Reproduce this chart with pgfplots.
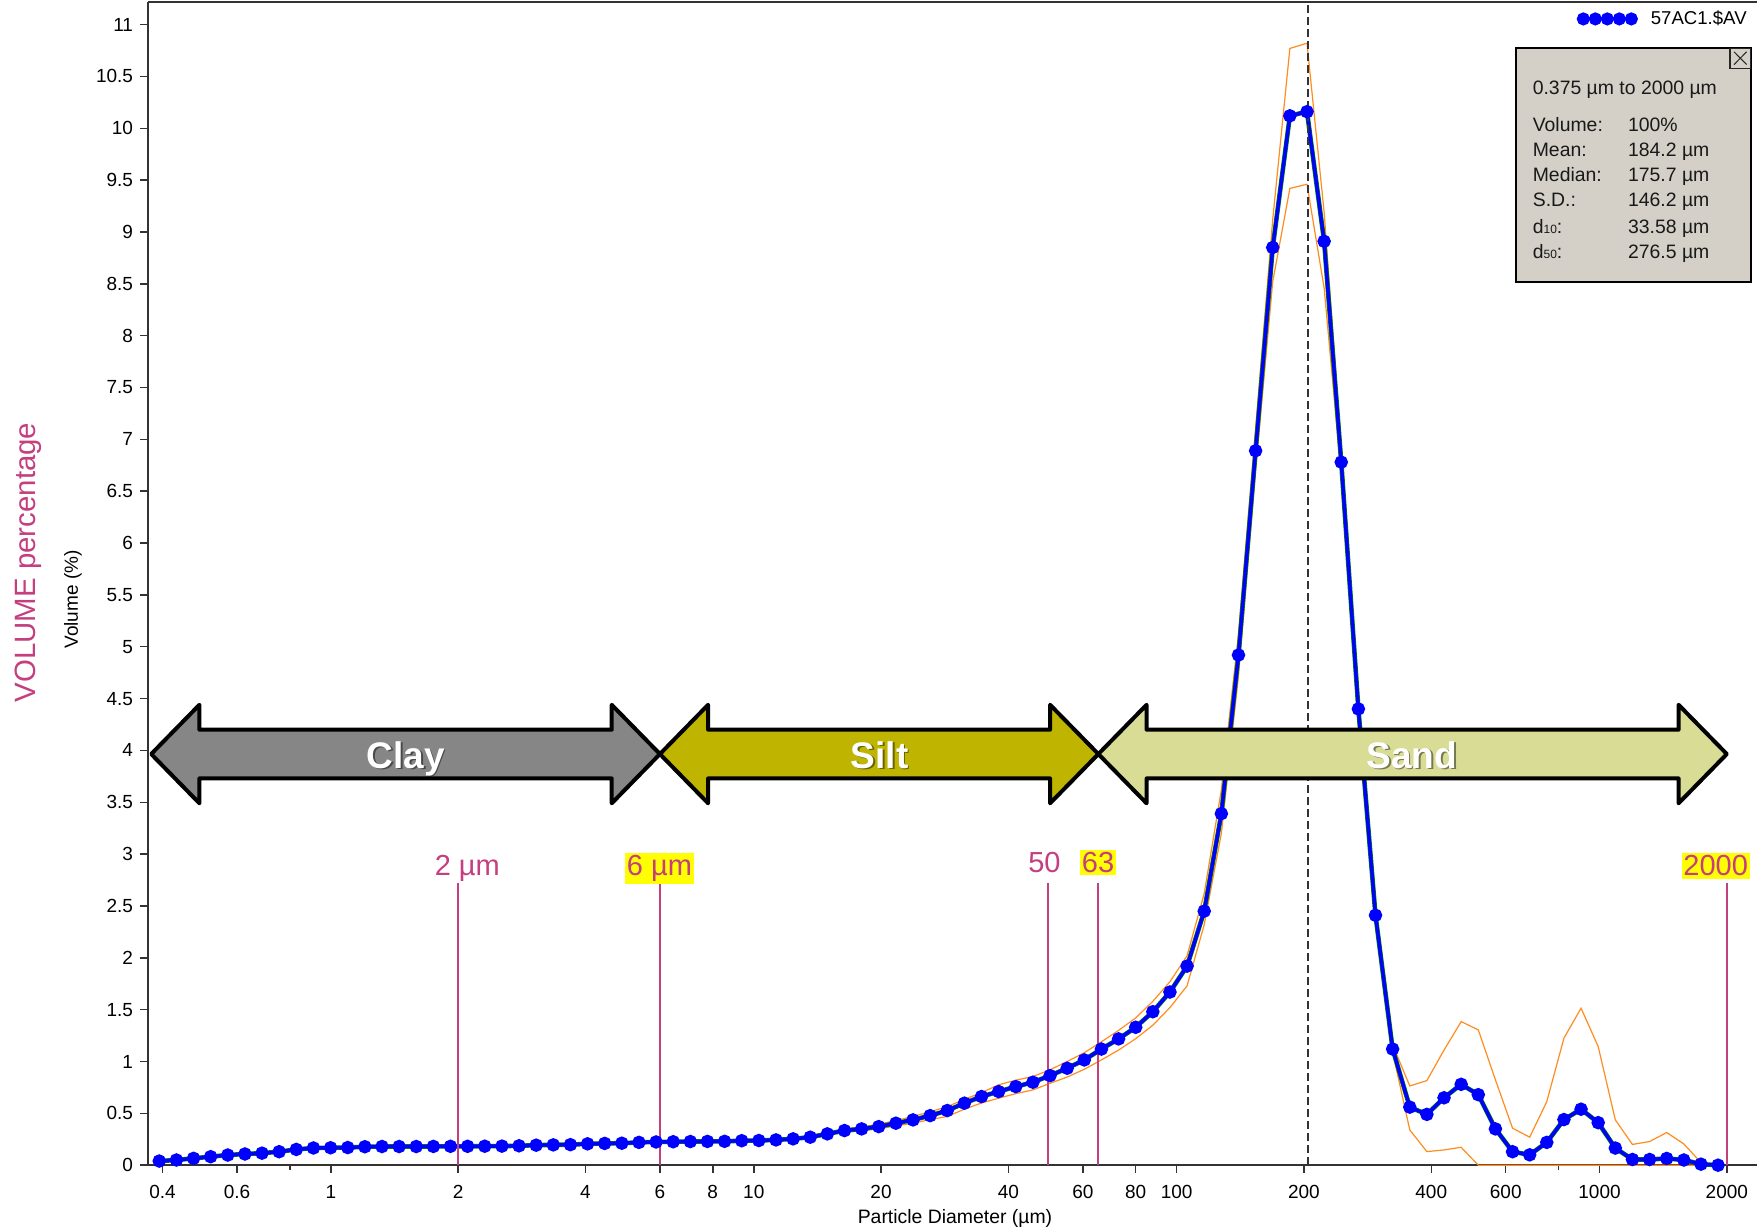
\documentclass[border=0pt]{standalone}
\usepackage{fontspec}
\setmainfont{Liberation Sans}
\usepackage{pgfplots}
\usepackage{pgfplotstable}
\pgfplotsset{compat=1.18}
\definecolor{claygray}{RGB}{135,134,134}
\definecolor{siltolive}{RGB}{191,181,0}
\definecolor{sandcol}{RGB}{216,220,148}
\definecolor{orangeC}{RGB}{255,140,30}
\definecolor{magC}{RGB}{196,62,128}
\definecolor{boxgray}{RGB}{212,208,200}
\definecolor{greenC}{RGB}{0,128,0}
\definecolor{hiyel}{RGB}{255,255,0}

\pgfplotstableread{
x b u l
0.3929 0.040 0.045 0.035
0.4313 0.050 0.055 0.045
0.4735 0.066 0.071 0.061
0.5197 0.082 0.087 0.077
0.5705 0.098 0.103 0.093
0.6263 0.108 0.113 0.103
0.6875 0.116 0.121 0.111
0.7547 0.130 0.135 0.125
0.8285 0.152 0.157 0.147
0.9095 0.166 0.171 0.161
0.9986 0.168 0.173 0.163
1.0962 0.170 0.175 0.165
1.2034 0.178 0.183 0.173
1.3210 0.180 0.185 0.175
1.4501 0.180 0.185 0.175
1.5918 0.180 0.185 0.175
1.7474 0.181 0.186 0.176
1.9182 0.182 0.187 0.177
2.1057 0.182 0.187 0.177
2.3115 0.183 0.188 0.178
2.5381 0.184 0.189 0.179
2.7862 0.187 0.192 0.182
3.0586 0.193 0.198 0.188
3.3575 0.196 0.201 0.191
3.6857 0.198 0.203 0.193
4.0460 0.206 0.216 0.196
4.4415 0.210 0.220 0.200
4.8757 0.212 0.222 0.202
5.3523 0.220 0.230 0.210
5.8755 0.224 0.234 0.214
6.4498 0.226 0.236 0.216
7.0803 0.228 0.238 0.218
7.7724 0.229 0.239 0.219
8.5322 0.230 0.240 0.220
9.3662 0.236 0.246 0.226
10.282 0.238 0.248 0.228
11.287 0.244 0.255 0.235
12.390 0.254 0.265 0.243
13.601 0.270 0.285 0.258
14.931 0.302 0.318 0.288
16.390 0.334 0.350 0.318
17.993 0.350 0.370 0.332
19.751 0.372 0.395 0.350
21.682 0.405 0.430 0.380
23.802 0.437 0.470 0.405
26.128 0.478 0.515 0.440
28.682 0.527 0.565 0.470
31.486 0.598 0.635 0.540
34.564 0.662 0.700 0.600
37.943 0.710 0.775 0.646
41.652 0.758 0.820 0.690
45.723 0.800 0.855 0.726
50.193 0.864 0.920 0.790
55.100 0.935 1.000 0.850
60.486 1.015 1.085 0.925
66.399 1.120 1.190 1.015
72.890 1.218 1.300 1.110
80.015 1.330 1.420 1.220
87.837 1.480 1.580 1.350
96.424 1.670 1.770 1.520
105.85 1.920 2.020 1.730
116.20 2.450 2.620 2.320
127.56 3.390 3.620 3.200
140.03 4.920 5.120 4.720
153.72 6.890 7.100 6.700
168.74 8.850 9.120 8.520
185.24 10.12 10.77 9.420
203.35 10.16 10.82 9.460
223.23 8.910 9.190 8.460
245.05 6.780 6.920 6.650
269.00 4.400 4.500 4.300
295.30 2.410 2.500 2.340
324.17 1.120 1.160 1.090
355.86 0.560 0.764 0.340
390.64 0.490 0.816 0.131
428.83 0.650 1.110 0.147
470.75 0.780 1.385 0.173
516.77 0.680 1.305 0.000
567.29 0.350 0.823 0.000
622.74 0.130 0.357 0.000
683.62 0.100 0.270 0.000
750.44 0.220 0.613 0.000
823.80 0.440 1.225 0.000
904.33 0.540 1.514 0.000
992.73 0.410 1.144 0.000
1089.8 0.165 0.437 0.000
1196.3 0.055 0.200 0.000
1313.3 0.055 0.228 0.000
1441.6 0.065 0.315 0.000
1582.5 0.050 0.205 0.000
1737.2 0.010 0.025 0.000
1907.0 0.000 0.000 0.000
}\datatable

\newcommand{\bigarrow}[5]{%
  \draw[line width=2pt, line join=round, fill=#5]
    (axis cs:#1,3.965) -- (axis cs:#2,4.44) -- (axis cs:#2,4.20) -- (axis cs:#3,4.20)
    -- (axis cs:#3,4.44) -- (axis cs:#4,3.965) -- (axis cs:#3,3.49) -- (axis cs:#3,3.73)
    -- (axis cs:#2,3.73) -- (axis cs:#2,3.49) -- cycle;}
\newcommand{\arrowtext}[2]{%
  \node[anchor=base, font=\fontsize{18.5}{20}\selectfont\bfseries, text=black, text opacity=0.45, xshift=0.9pt, yshift=-0.9pt] at (axis cs:#1,3.83) {#2};
  \node[anchor=base, font=\fontsize{18.5}{20}\selectfont\bfseries, text=white] at (axis cs:#1,3.83) {#2};}

\begin{document}
\begin{tikzpicture}
\path[use as bounding box] (-74pt,-31.85pt) rectangle (804.5pt,582.6pt);
\begin{axis}[
  at={(0pt,0pt)}, anchor=south west,
  scale only axis, width=804.5pt, height=581.5pt,
  xmode=log, xmin=0.3695, xmax=2357, ymin=0, ymax=11.216,
  clip=false,
  axis x line*=box, axis y line*=left,
  axis line style={draw=black!80, line width=0.75pt},
  xtick pos=bottom, ytick pos=left,
  tick align=outside, major tick length=4pt,
  tick style={black!80, line width=0.75pt},
  xminorticks=false, yminorticks=false,
  xtick={0.4,0.6,1,2,4,6,8,10,20,40,60,80,100,200,400,600,1000,2000},
  xticklabels={0.4,0.6,1,2,4,6,8,10,20,40,60,80,100,200,400,600,1000,2000},
  extra x ticks={0.8,800}, extra x tick labels={},
  extra x tick style={major tick length=2.5pt},
  ytick={0,0.5,...,11},
  /pgf/number format/assume math mode=true,
  tick label style={font=\fontsize{9.5}{10}\selectfont},
  xticklabel style={yshift=-2.6pt},
  legend style={at={(axis description cs:0.9963,0.9856)}, anchor=east, draw=none, fill=none,
    inner sep=0pt, column sep=4.5pt, font=\fontsize{9.3}{10}\selectfont},
  legend image code/.code={%
    \draw[blue, line width=1.5pt] (0pt,0pt) -- (24pt,0pt);
    \foreach \xx in {0,6,12,18,24} {\fill[blue] (\xx pt,0pt) circle[radius=2.4pt];}},
]
\addplot[orangeC, line width=0.6pt, forget plot] table[x=x, y=u] {\datatable};
\addplot[orangeC, line width=0.6pt, forget plot] table[x=x, y=l] {\datatable};
\addplot[greenC, line width=2.3pt, forget plot] table[x=x, y=b] {\datatable};
\addplot[blue, line width=1.7pt, mark=*, mark size=2.5pt, mark options={blue}] table[x=x, y=b] {\datatable};
\addlegendentry{57AC1.\$AV}

% size class limits
\draw[magC, line width=1pt] (axis cs:2,0) -- (axis cs:2,2.72);
\draw[magC, line width=1pt] (axis cs:6,0) -- (axis cs:6,2.72);
\draw[magC, line width=1pt] (axis cs:49.5,0) -- (axis cs:49.5,2.72);
\draw[magC, line width=1pt] (axis cs:65,0) -- (axis cs:65,2.72);
\draw[magC, line width=1pt] (axis cs:2000,0) -- (axis cs:2000,2.72);
\draw[black!80, line width=1pt, dash pattern=on 4pt off 2pt] (axis cs:205,0) -- (axis cs:205,11.216);

\node[anchor=base, text=magC, font=\fontsize{14.5}{16}\selectfont] at (axis cs:2.102,2.79) {2 µm};
\node[anchor=base, text=magC, fill=hiyel, inner xsep=0.8pt, inner ysep=1.2pt, font=\fontsize{14.5}{16}\selectfont] at (axis cs:5.985,2.79) {6 µm};
\node[anchor=base, text=magC, font=\fontsize{14.5}{16}\selectfont] at (axis cs:48.7,2.82) {50};
\node[anchor=base, text=magC, fill=hiyel, inner xsep=0.8pt, inner ysep=1.2pt, font=\fontsize{14.5}{16}\selectfont] at (axis cs:65.2,2.82) {63};
\node[anchor=base, text=magC, fill=hiyel, inner xsep=0.8pt, inner ysep=1.2pt, font=\fontsize{14.5}{16}\selectfont] at (axis cs:1882,2.79) {2000};

% grain-size class arrows
\bigarrow{0.376}{0.4888}{4.615}{6.0}{claygray}
\bigarrow{6.0}{7.8}{50.2}{65.3}{siltolive}
\bigarrow{65.3}{84.9}{1538}{2000}{sandcol}
\arrowtext{1.503}{Clay}
\arrowtext{19.85}{Silt}
\arrowtext{359.6}{Sand}
\end{axis}

% axis titles
\node[rotate=90, font=\fontsize{9.5}{10}\selectfont] at (-37.5pt,282.9pt) {Volume (\%)};
\node[rotate=90, text=magC, font=\fontsize{14.7}{16}\selectfont] at (-60pt,301.4pt) {VOLUME percentage};
\node[font=\fontsize{9.7}{10}\selectfont] at (403.5pt,-26.6pt) {Particle Diameter (µm)};

% statistics box
\draw[fill=boxgray, line width=1.2pt] (684pt,441.65pt) rectangle (801.5pt,558.65pt);
\draw[black!85, line width=0.6pt] (791pt,548.5pt) rectangle (801.3pt,558.5pt);
\draw[black!85, line width=0.5pt] (793pt,550.3pt) -- (799.3pt,556.7pt) (793pt,556.7pt) -- (799.3pt,550.3pt);
\begin{scope}[every node/.style={anchor=base west, inner sep=0pt, font=\fontsize{9.7}{10}\selectfont, text=black!90}]
\node at (692.2pt,535.5pt) {0.375 µm to 2000 µm};
\node at (692.2pt,516.7pt) {Volume:};
\node at (739.85pt,516.7pt) {100\%};
\node at (692.2pt,504.2pt) {Mean:};
\node at (739.85pt,504.2pt) {184.2 µm};
\node at (692.2pt,491.7pt) {Median:};
\node at (739.85pt,491.7pt) {175.7 µm};
\node at (692.2pt,479.2pt) {S.D.:};
\node at (739.85pt,479.2pt) {146.2 µm};
\node at (692.2pt,465.8pt) {d{\fontsize{6}{6}\selectfont 10}:};
\node at (739.85pt,465.8pt) {33.58 µm};
\node at (692.2pt,453.3pt) {d{\fontsize{6}{6}\selectfont 50}:};
\node at (739.85pt,453.3pt) {276.5 µm};
\end{scope}
\end{tikzpicture}
\end{document}
